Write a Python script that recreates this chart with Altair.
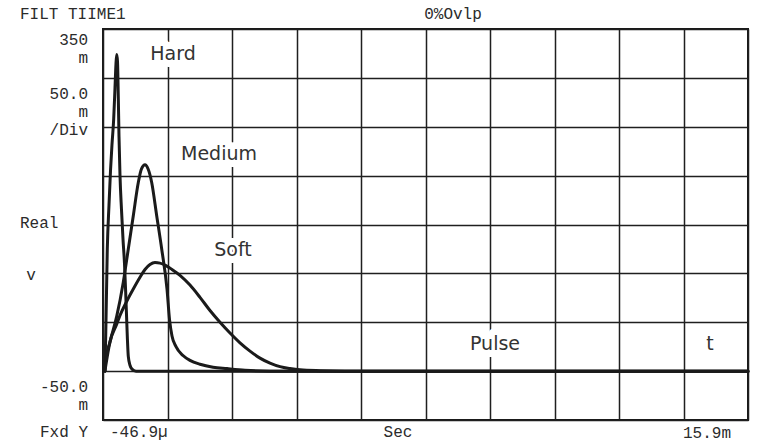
import altair as alt
import numpy as np
import pandas as pd

# Filter impulse responses: time in ms, amplitude in mV
hard_t = [0.000, 0.0223, 0.0594, 0.1014, 0.1385, 0.1756, 0.2176, 0.2498, 0.2745, 0.2918,
          0.3116, 0.3314, 0.3487, 0.3734, 0.4105, 0.4476, 0.4847, 0.5143, 0.5366, 0.5564,
          0.5786, 0.6206, 0.6701, 0.7690, 15.9]
hard_v = [0, 40, 125, 170, 205, 232, 258, 290, 315, 324,
          317, 280, 240, 200, 165, 135, 110, 80, 55, 33,
          15, 6, 2, 0, 0]

medium_t = [0.000, 0.0149, 0.1261, 0.2918, 0.4549, 0.5786, 0.7022, 0.8258, 0.9049, 0.9914,
            1.0656, 1.1571, 1.2807, 1.4043, 1.5355, 1.5973, 1.6591, 1.7580, 1.9310, 2.1040,
            2.3513, 2.6727, 3.0188, 3.4638, 4.0819, 15.9]
medium_v = [0, 9, 30, 56, 91, 125, 159, 193, 207, 211,
            207, 193, 159, 125, 84, 53, 36, 25, 16, 11,
            7, 4, 2.6, 1, 0, 0]

soft_t = [0.000, 0.1261, 0.2918, 0.3734, 0.5465, 0.7022, 0.8679, 0.9914, 1.1151, 1.2387,
          1.3623, 1.5107, 1.6591, 1.8569, 2.1040, 2.3513, 2.5985, 2.8457, 3.0930, 3.3402,
          3.5874, 3.8347, 4.0819, 4.3291, 4.5764, 4.8236, 5.3181, 5.9361, 15.9]
soft_v = [0, 30, 48, 57, 72, 84, 96, 104, 109, 111,
          110.5, 108, 104, 98, 88, 75.5, 62, 50, 39, 29,
          20.5, 13.3, 8.2, 4.6, 2.6, 1.3, 0.4, 0, 0]

# Curve labels placed on the grid
label_text = ["Hard", "Medium", "Soft", "Pulse", "t"]
label_t = [1.684, 2.821, 3.167, 9.645, 14.961]
label_v = [324, 222, 124, 27.6, 27.6]

# Screen scale: 10 horizontal and 8 vertical divisions
x_min, x_max = -0.0469, 15.9
y_min, y_max = -50, 350
x_grid = list(np.linspace(x_min, x_max, 11))
y_grid = list(range(y_min, y_max + 1, 50))

curves = pd.concat([
    pd.DataFrame({"t": hard_t, "v": hard_v, "series": "Hard"}),
    pd.DataFrame({"t": medium_t, "v": medium_v, "series": "Medium"}),
    pd.DataFrame({"t": soft_t, "v": soft_v, "series": "Soft"}),
])
labels = pd.DataFrame({"t": label_t, "v": label_v, "text": label_text})

x_enc = alt.X("t:Q", scale=alt.Scale(domain=[x_min, x_max], nice=False, zero=False),
              axis=alt.Axis(values=x_grid, grid=True, labels=False, ticks=False,
                            domain=False, title=None))
y_enc = alt.Y("v:Q", scale=alt.Scale(domain=[y_min, y_max], nice=False, zero=False),
              axis=alt.Axis(values=y_grid, grid=True, labels=False, ticks=False,
                            domain=False, title=None))

lines = alt.Chart(curves).mark_line(
    color="#1a1a1a", strokeWidth=3, interpolate="monotone",
    strokeJoin="round", strokeCap="round"
).encode(x=x_enc, y=y_enc, detail="series:N", order="t:Q")

label_font = dict(font="DejaVu Sans", fontSize=19, align="center", baseline="middle")
halo = alt.Chart(labels).mark_text(
    color="white", stroke="white", strokeWidth=14, strokeJoin="round", **label_font
).encode(x="t:Q", y="v:Q", text="text:N")
label_marks = alt.Chart(labels).mark_text(color="#333333", **label_font).encode(
    x="t:Q", y="v:Q", text="text:N")


def mono(text, px, py, align="left"):
    return alt.Chart(pd.DataFrame({"s": [text]})).mark_text(
        font="Liberation Mono", fontSize=16, color="#2b2b2b",
        align=align, baseline="alphabetic"
    ).encode(x=alt.value(px), y=alt.value(py), text="s:N")


readouts = [
    mono("FILT TIIME1", -83, -10),
    mono("0%Ovlp", 350, -10.5, "center"),
    mono("350", -15, 16, "right"),
    mono("m", -15, 34, "right"),
    mono("50.0", -15, 70, "right"),
    mono("m", -15, 88, "right"),
    mono("/Div", -15, 106, "right"),
    mono("Real", -83, 199),
    mono("v", -72, 251, "center"),
    mono("-50.0", -15, 363, "right"),
    mono("m", -15, 381, "right"),
    mono("Fxd Y", -63, 408),
    mono("-46.9\u00b5", 7, 408),
    mono("Sec", 295, 408, "center"),
    mono("15.9m", 580, 409),
]

chart = alt.layer(lines, halo, label_marks, *readouts).properties(
    width=645, height=391,
    padding={"left": 103, "top": 29, "right": 9, "bottom": 24},
    autosize=alt.AutoSizeParams(type="none"),
    background="white",
).configure_view(
    stroke="#1a1a1a", strokeWidth=2
).configure_axis(
    gridColor="#1f1f1f", gridWidth=1.5, gridOpacity=1
)

chart.save("out.html", embed_options={"renderer": "svg", "actions": False})
